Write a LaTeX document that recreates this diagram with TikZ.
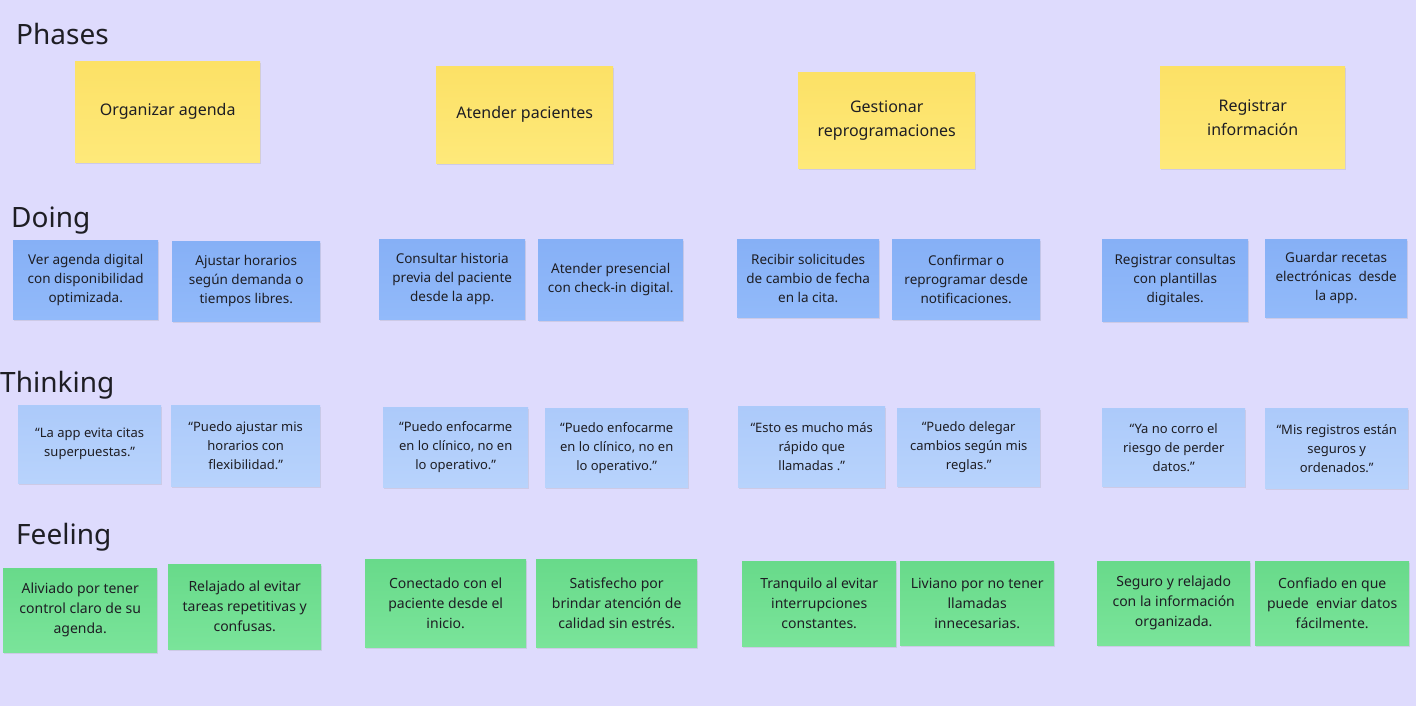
\documentclass[tikz,border=0pt]{standalone}
\usepackage{fontspec}
\setmainfont{Noto Sans}
\usetikzlibrary{shadows}
\definecolor{bg}{RGB}{222,219,253}
\definecolor{ink}{RGB}{30,30,36}
\definecolor{yelT}{RGB}{252,225,102}
\definecolor{yelB}{RGB}{254,233,122}
\definecolor{doT}{RGB}{134,176,246}
\definecolor{doB}{RGB}{146,186,250}
\definecolor{thT}{RGB}{172,202,250}
\definecolor{thB}{RGB}{184,211,252}
\definecolor{feT}{RGB}{104,218,138}
\definecolor{feB}{RGB}{122,228,154}
\tikzset{
  x=1pt, y=-1pt,
  note/.style={anchor=north west, inner sep=0pt, align=center, text=ink,
     drop shadow={shadow xshift=0.6pt, shadow yshift=-1.4pt, opacity=0.18}},
  phasebox/.style={note, top color=yelT, bottom color=yelB, font=\fontsize{16}{24}\selectfont},
  doingbox/.style={note, top color=doT, bottom color=doB, font=\fontsize{13.5}{19}\selectfont},
  thinkbox/.style={note, top color=thT, bottom color=thB, font=\fontsize{13}{19}\selectfont},
  feelbox/.style={note, top color=feT, bottom color=feB, font=\fontsize{14}{20}\selectfont},
  rowtitle/.style={anchor=base west, inner sep=0pt, text=ink, font=\fontsize{28}{32}\selectfont},
}
\newcommand{\nt}[7]{% style, name, x1, y1, x2, y2, text
  \node[#1, minimum width={#5-#3}, minimum height={#6-#4}] (#2) at (#3,#4) {#7};}
\begin{document}
\begin{tikzpicture}
\fill[bg] (0,0) rectangle (1416,706);
\useasboundingbox (0,0) rectangle (1416,706);

% row titles
\node[rowtitle] (tPhases) at (16,45) {Phases};
\node[rowtitle] (tDoing) at (11,227) {Doing};
\node[rowtitle] (tThinking) at (0,392) {Thinking};
\node[rowtitle] (tFeeling) at (16,544) {Feeling};

% phases
\nt{phasebox}{p1}{75}{61}{260}{162}{Organizar agenda}
\nt{phasebox}{p2}{436}{66}{613}{163}{Atender pacientes}
\nt{phasebox}{p3}{798}{72}{975}{168}{Gestionar\\reprogramaciones}
\nt{phasebox}{p4}{1160}{66}{1345}{168}{Registrar\\información}

% doing
\nt{doingbox}{d1}{13}{240}{158}{319}{Ver agenda digital\\con disponibilidad\\optimizada.}
\nt{doingbox}{d2}{172}{241}{320}{321}{Ajustar horarios\\según demanda o\\tiempos libres.}
\nt{doingbox}{d3}{379}{239}{525}{319}{Consultar historia\\previa del paciente\\desde la app.}
\nt{doingbox}{d4}{538}{239}{683}{320}{Atender presencial\\con check-in digital.}
\nt{doingbox}{d5}{737}{239}{879}{317}{Recibir solicitudes\\de cambio de fecha\\en la cita.}
\nt{doingbox}{d6}{892}{239}{1040}{319}{Confirmar o\\reprogramar desde\\notificaciones.}
\nt{doingbox}{d7}{1102}{239}{1248}{321}{Registrar consultas\\con plantillas\\digitales.}
\nt{doingbox}{d8}{1265}{239}{1407}{317}{Guardar recetas\\electrónicas~ desde\\la app.}

% thinking
\nt{thinkbox}{t1}{18}{405}{161}{483}{“La app evita citas\\superpuestas.”}
\nt{thinkbox}{t2}{171}{405}{320}{486}{“Puedo ajustar mis\\horarios con\\flexibilidad.”}
\nt{thinkbox}{t3}{383}{407}{528}{487}{“Puedo enfocarme\\en lo clínico, no en\\lo operativo.”}
\nt{thinkbox}{t4}{545}{408}{688}{487}{“Puedo enfocarme\\en lo clínico, no en\\lo operativo.”}
\nt{thinkbox}{t5}{738}{406}{885}{487}{“Esto es mucho más\\rápido que\\llamadas .”}
\nt{thinkbox}{t6}{897}{408}{1040}{486}{“Puedo delegar\\cambios según mis\\reglas.”}
\nt{thinkbox}{t7}{1102}{408}{1245}{486}{“Ya no corro el\\riesgo de perder\\datos.”}
\nt{thinkbox}{t8}{1265}{408}{1408}{488}{“Mis registros están\\seguros y\\ordenados.”}

% feeling
\nt{feelbox}{f1}{3}{568}{157}{652}{Aliviado por tener\\control claro de su\\agenda.}
\nt{feelbox}{f2}{168}{564}{321}{649}{Relajado al evitar\\tareas repetitivas y\\confusas.}
\nt{feelbox}{f3}{365}{559}{526}{647}{Conectado con el\\paciente desde el\\inicio.}
\nt{feelbox}{f4}{536}{559}{697}{647}{Satisfecho por\\brindar atención de\\calidad sin estrés.}
\nt{feelbox}{f5}{742}{561}{896}{646}{Tranquilo al evitar\\interrupciones\\constantes.}
\nt{feelbox}{f6}{900}{561}{1054}{645}{Liviano por no tener\\llamadas\\innecesarias.}
\nt{feelbox}{f7}{1097}{561}{1250}{645}{Seguro y relajado\\con la información\\organizada.}
\nt{feelbox}{f8}{1255}{561}{1409}{645}{Confiado en que\\puede~ enviar datos\\fácilmente.}
\end{tikzpicture}
\end{document}
